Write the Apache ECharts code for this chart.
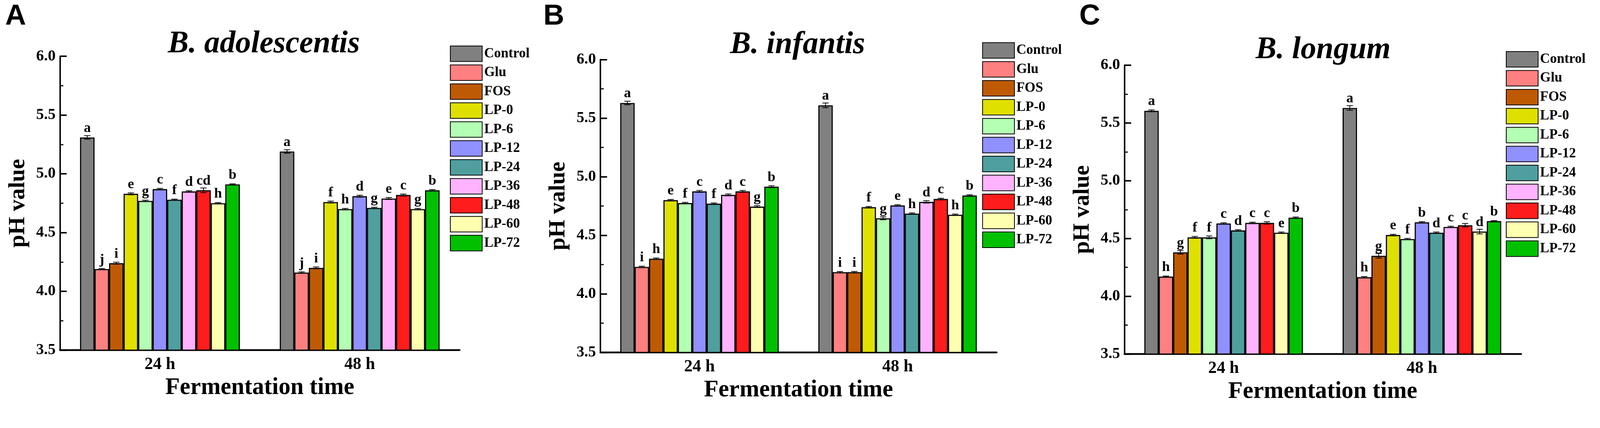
<!DOCTYPE html>
<html>
<head>
<meta charset="utf-8">
<title>pH value - Bifidobacterium</title>
<script src="https://cdn.jsdelivr.net/npm/echarts@6/dist/echarts.min.js"></script>
<style>
  html, body { margin: 0; padding: 0; background: #fff; overflow: hidden; }
  #main { width: 4317px; height: 1096px; }
</style>
</head>
<body>
<div id="main"></div>
<script>
// groups and time points
var groups = ['Control', 'Glu', 'FOS', 'LP-0', 'LP-6', 'LP-12', 'LP-24', 'LP-36', 'LP-48', 'LP-60', 'LP-72'];
var times = ['24 h', '48 h'];
var colors = ['#808080', '#ff8080', '#bf5a04', '#e0e000', '#b3ffb3', '#9090ff',
              '#4f9f9f', '#ffb3ff', '#ff1c1c', '#ffffb0', '#00c000'];
var yTicks = [3.5, 4.0, 4.5, 5.0, 5.5, 6.0];

// A: B. adolescentis
var adoMean24 = [5.31, 4.19, 4.24, 4.83, 4.77, 4.87, 4.78, 4.85, 4.86, 4.75, 4.91];
var adoMean48 = [5.19, 4.16, 4.20, 4.76, 4.70, 4.81, 4.71, 4.79, 4.82, 4.70, 4.86];
var adoErr24 = [0.015, 0.005, 0.008, 0.008, 0.006, 0.006, 0.005, 0.006, 0.02, 0.005, 0.005];
var adoErr48 = [0.015, 0.006, 0.008, 0.008, 0.006, 0.008, 0.006, 0.008, 0.008, 0.006, 0.006];
var adoSig24 = ['a', 'j', 'i', 'e', 'g', 'c', 'f', 'd', 'cd', 'h', 'b'];
var adoSig48 = ['a', 'j', 'i', 'f', 'h', 'd', 'g', 'e', 'c', 'g', 'b'];

// B: B. infantis
var infMean24 = [5.63, 4.23, 4.30, 4.80, 4.775, 4.875, 4.77, 4.845, 4.875, 4.745, 4.915];
var infMean48 = [5.61, 4.185, 4.185, 4.74, 4.645, 4.755, 4.685, 4.785, 4.81, 4.675, 4.84];
var infErr24 = [0.015, 0.006, 0.006, 0.006, 0.006, 0.008, 0.006, 0.008, 0.008, 0.008, 0.008];
var infErr48 = [0.02, 0.006, 0.006, 0.006, 0.012, 0.006, 0.006, 0.01, 0.006, 0.006, 0.006];
var infSig24 = ['a', 'i', 'h', 'e', 'f', 'c', 'f', 'd', 'c', 'g', 'b'];
var infSig48 = ['a', 'i', 'i', 'f', 'g', 'e', 'h', 'd', 'c', 'h', 'b'];

// C: B. longum
var lonMean24 = [5.605, 4.17, 4.38, 4.51, 4.51, 4.63, 4.57, 4.635, 4.635, 4.55, 4.68];
var lonMean48 = [5.63, 4.165, 4.35, 4.53, 4.495, 4.64, 4.55, 4.60, 4.615, 4.56, 4.65];
var lonErr24 = [0.008, 0.005, 0.015, 0.008, 0.012, 0.006, 0.006, 0.006, 0.01, 0.006, 0.006];
var lonErr48 = [0.02, 0.006, 0.02, 0.006, 0.006, 0.006, 0.006, 0.006, 0.015, 0.02, 0.005];
var lonSig24 = ['a', 'h', 'g', 'f', 'f', 'c', 'd', 'c', 'c', 'e', 'b'];
var lonSig48 = ['a', 'h', 'g', 'e', 'f', 'b', 'd', 'c', 'c', 'd', 'b'];

// the layout below is drawn for a 4317 x 1096 page; shrink it if the viewport is smaller
var S = Math.min(window.innerWidth / 4317, window.innerHeight / 1096, 1);
function s(v) { return v * S; }

var dom = document.getElementById('main');
dom.style.width = Math.floor(4317 * S) + 'px';
dom.style.height = Math.floor(1096 * S) + 'px';

var panels = [
    { tag: 'A', title: 'B. adolescentis', mean: [adoMean24, adoMean48], err: [adoErr24, adoErr48], sig: [adoSig24, adoSig48],
      grid: [162, 152, 1078, 793], legend: [1214, 123], tagX: 14, titleX: 712, titleY: 119 },
    { tag: 'B', title: 'B. infantis', mean: [infMean24, infMean48], err: [infErr24, infErr48], sig: [infSig24, infSig48],
      grid: [1620, 161, 1069, 790], legend: [2650, 114], tagX: 1466, titleX: 2152, titleY: 122 },
    { tag: 'C', title: 'B. longum', mean: [lonMean24, lonMean48], err: [lonErr24, lonErr48], sig: [lonSig24, lonSig48],
      grid: [3034, 176, 1070, 788], legend: [4063, 138], tagX: 2912, titleX: 3570, titleY: 135 }
];

var serif = '"Liberation Serif", "Times New Roman", serif';

var myChart = echarts.init(dom, null, { renderer: 'canvas' });

var grids = [], xAxes = [], yAxes = [], series = [], legends = [], graphics = [];

panels.forEach(function (p, pi) {
    grids.push({ left: s(p.grid[0]), top: s(p.grid[1]), width: s(p.grid[2]), height: s(p.grid[3]) });

    // main category axis (index 2*pi)
    xAxes.push({
        type: 'category',
        gridIndex: pi,
        position: 'bottom',
        data: times,
        axisLine: { lineStyle: { color: '#000', width: s(5) } },
        axisTick: { inside: true, length: s(10), lineStyle: { color: '#000', width: s(3) } },
        axisLabel: { color: '#000', fontFamily: serif, fontWeight: 'bold', fontSize: s(46), margin: s(16) },
        name: 'Fermentation time',
        nameLocation: 'middle',
        nameGap: s(70),
        nameTextStyle: { color: '#000', fontFamily: serif, fontWeight: 'bold', fontSize: s(64) }
    });
    // second axis only for the ticks at the category centres
    xAxes.push({
        type: 'category',
        gridIndex: pi,
        position: 'bottom',
        data: times,
        z: 10,
        axisLine: { show: false },
        axisLabel: { show: false },
        axisTick: { inside: true, alignWithLabel: true, length: s(10), lineStyle: { color: '#000', width: s(3) } }
    });

    yAxes.push({
        type: 'value',
        gridIndex: pi,
        min: yTicks[0],
        max: yTicks[yTicks.length - 1],
        interval: 0.5,
        splitLine: { show: false },
        axisLine: { show: true, lineStyle: { color: '#000', width: s(4) } },
        axisTick: { show: true, inside: true, length: s(18), lineStyle: { color: '#000', width: s(4) } },
        minorTick: { show: true, splitNumber: 2, length: s(9), lineStyle: { color: '#000', width: s(3) } },
        axisLabel: {
            color: '#000', fontFamily: serif, fontWeight: 'bold', fontSize: s(42), margin: s(12),
            formatter: function (v) { return v.toFixed(1); }
        },
        name: 'pH value',
        nameLocation: 'middle',
        nameGap: s(82),
        nameTextStyle: { color: '#000', fontFamily: serif, fontWeight: 'bold', fontSize: s(62) }
    });

    // one bar series per treatment
    groups.forEach(function (g, k) {
        series.push({
            type: 'bar',
            name: g,
            xAxisIndex: pi * 2,
            yAxisIndex: pi,
            data: [p.mean[0][k], p.mean[1][k]],
            barGap: '0%',
            barCategoryGap: '20%',
            itemStyle: { color: colors[k], borderColor: '#000', borderWidth: s(3) },
            label: {
                show: true,
                position: 'top',
                distance: s(6),
                color: '#000',
                fontFamily: serif,
                fontWeight: 'bold',
                fontSize: s(38),
                formatter: function (prm) { return p.sig[prm.dataIndex][k]; }
            },
            emphasis: { disabled: true }
        });
    });

    // error bars
    var errData = [];
    groups.forEach(function (g, k) {
        for (var c = 0; c < times.length; c++) {
            errData.push([c, k, p.mean[c][k], p.err[c][k]]);
        }
    });
    series.push({
        type: 'custom',
        name: 'err' + pi,
        xAxisIndex: pi * 2,
        yAxisIndex: pi,
        data: errData,
        encode: { x: 0, y: 2 },
        z: 5,
        silent: true,
        renderItem: function (params, api) {
            var c = api.value(0), k = api.value(1), m = api.value(2), e = api.value(3);
            var bw = api.size([1, 0])[0] * 0.8 / groups.length;
            var top = api.coord([c, m + e]);
            var bot = api.coord([c, m - e]);
            var x = top[0] + (k - (groups.length - 1) / 2) * bw;
            var half = bw * 0.22;
            var st = { stroke: '#000', lineWidth: s(2) };
            return {
                type: 'group',
                children: [
                    { type: 'line', shape: { x1: x, y1: top[1], x2: x, y2: bot[1] }, style: st },
                    { type: 'line', shape: { x1: x - half, y1: top[1], x2: x + half, y2: top[1] }, style: st },
                    { type: 'line', shape: { x1: x - half, y1: bot[1], x2: x + half, y2: bot[1] }, style: st }
                ]
            };
        }
    });

    legends.push({
        data: groups,
        orient: 'vertical',
        left: s(p.legend[0]),
        top: s(p.legend[1]),
        padding: 0,
        itemWidth: s(86),
        itemHeight: s(42),
        itemGap: s(7),
        icon: 'rect',
        selectedMode: false,
        textStyle: { color: '#000', fontFamily: serif, fontWeight: 'bold', fontSize: s(37), lineHeight: s(42) }
    });

    graphics.push({
        type: 'text', x: s(p.tagX), y: s(6),
        style: { text: p.tag, font: 'bold ' + s(78) + 'px "Liberation Sans", Arial, sans-serif', fill: '#000' }
    });
    graphics.push({
        type: 'text', x: s(p.titleX), y: s(p.titleY),
        style: {
            text: p.title, font: 'italic bold ' + s(84) + 'px ' + serif, fill: '#000',
            textAlign: 'center', textVerticalAlign: 'middle'
        }
    });
});

var option = {
    backgroundColor: '#fff',
    animation: false,
    grid: grids,
    xAxis: xAxes,
    yAxis: yAxes,
    legend: legends,
    graphic: graphics,
    series: series
};

myChart.setOption(option, true);
</script>
</body>
</html>
